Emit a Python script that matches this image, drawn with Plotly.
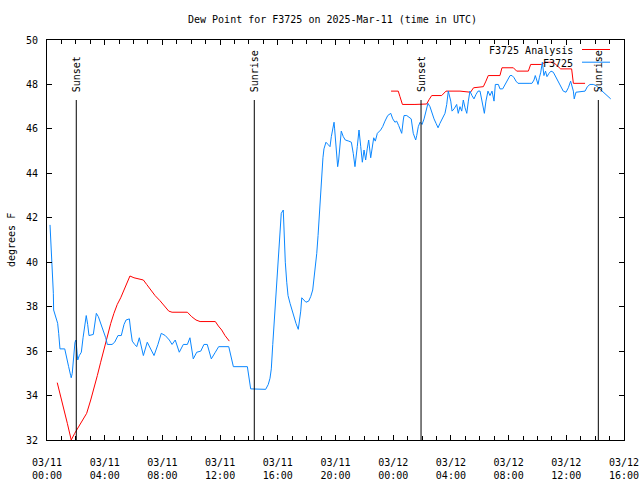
import pandas as pd
import plotly.graph_objects as go

# ---- data (hours after 2025-03-11 00:00 UTC) ----
obs_hours = [0.21, 0.26, 0.35, 0.44, 0.46, 0.62, 0.74, 0.81, 0.90, 1.23, 1.37, 1.50, 1.64, 1.68, 1.75,
             1.85, 1.94, 2.01, 2.06, 2.13, 2.24, 2.38, 2.50, 2.59, 2.72, 2.82, 2.91, 3.21, 3.31, 3.42,
             3.56, 3.72, 3.90, 4.07, 4.18, 4.51, 4.69, 4.92, 5.15, 5.34, 5.48, 5.71, 5.80, 5.91, 6.08,
             6.22, 6.40, 6.52, 6.68, 6.95, 7.19, 7.42, 7.69, 7.92, 8.20, 8.48, 8.67, 8.89, 9.17, 9.45,
             9.73, 9.91, 10.14, 10.38, 10.66, 10.88, 11.11, 11.39, 11.67, 11.90, 12.60, 12.78, 12.92,
             13.89, 14.00, 14.12, 15.16, 15.34, 15.46, 15.55, 15.65, 15.74, 15.81, 15.88, 15.97, 16.03,
             16.10, 16.17, 16.24, 16.38, 16.45, 16.52, 16.62, 16.71, 16.85, 16.98, 17.12, 17.26, 17.42,
             17.49, 17.59, 17.66, 17.95, 18.14, 18.28, 18.42, 18.51, 18.60, 18.70, 18.79, 18.86, 18.93,
             18.99, 19.06, 19.13, 19.20, 19.34, 19.48, 19.62, 19.71, 19.81, 19.90, 19.94, 20.01, 20.08,
             20.15, 20.22, 20.31, 20.40, 20.54, 20.68, 20.92, 21.10, 21.23, 21.35, 21.51, 21.63, 21.75,
             21.86, 21.98, 22.09, 22.20, 22.30, 22.44, 22.53, 22.65, 22.76, 22.90, 23.13, 23.27, 23.43,
             23.62, 23.83, 23.97, 24.12, 24.24, 24.38, 24.52, 24.59, 24.70, 24.75, 24.94, 25.12, 25.25,
             25.39, 25.56, 25.63, 25.74, 25.86, 26.00, 26.14, 26.27, 26.41, 26.55, 26.69, 26.83, 26.97,
             27.11, 27.24, 27.43, 27.59, 27.71, 27.82, 27.99, 28.08, 28.22, 28.40, 28.51, 28.63, 28.75,
             28.86, 28.98, 29.10, 29.21, 29.32, 29.46, 29.60, 29.74, 29.88, 30.02, 30.14, 30.25, 30.32,
             30.43, 30.57, 30.71, 30.85, 30.99, 31.08, 31.29, 31.40, 31.59, 31.75, 31.91, 32.10, 32.24,
             32.38, 32.51, 32.65, 33.48, 33.62, 33.76, 33.85, 33.95, 34.04, 34.13, 34.23, 34.34, 34.45,
             34.56, 34.66, 34.80, 34.94, 35.10, 35.29, 35.45, 35.61, 35.79, 35.98, 36.14, 36.30, 36.40,
             36.49, 36.55, 36.67, 37.30, 37.46, 37.64, 37.87, 38.06, 38.22, 38.45, 38.68, 38.91, 39.08]
obs_values = [41.68, 41.1, 39.8, 38.6, 37.85, 37.55, 37.25, 36.8, 36.1, 36.1, 35.75, 35.3, 34.9, 34.8, 35.0,
              35.9, 36.4, 36.5, 36.05, 35.6, 35.8, 35.95, 36.6, 37.0, 37.6, 37.2, 36.7, 36.75, 37.25, 37.7,
              37.55, 37.25, 36.95, 36.6, 36.3, 36.3, 36.4, 36.7, 36.7, 37.2, 37.4, 37.45, 36.95, 36.45, 36.3,
              36.2, 36.6, 36.2, 35.8, 36.4, 36.1, 35.8, 36.3, 36.8, 36.7, 36.5, 36.3, 36.5, 35.95, 36.3,
              36.3, 36.6, 35.65, 35.95, 36.0, 36.3, 36.3, 35.65, 35.95, 36.2, 36.2, 35.6, 35.3,
              35.3, 34.85, 34.3, 34.28, 34.5, 34.78, 35.2, 36.3, 37.2, 38.1, 39.0, 39.8, 40.4,
              41.15, 41.8, 42.2, 42.35, 41.0, 40.0, 39.1, 38.5, 38.15, 37.85, 37.55, 37.25, 36.98,
              37.25, 37.8, 38.4, 38.2, 38.25, 38.45, 38.75, 39.2, 39.8, 40.4, 41.2, 42.05, 42.9,
              43.4, 44.1, 44.7, 45.1, 45.4, 45.3, 45.2, 45.65, 46.0, 46.3, 46.0, 45.35, 44.7,
              44.3, 44.6, 45.35, 45.9, 45.65, 45.5, 45.45, 45.4, 44.9, 44.3, 45.2, 45.95, 45.2,
              44.5, 45.05, 44.6, 45.1, 45.5, 44.7, 45.05, 45.6, 45.45, 45.8, 45.95, 46.1, 46.35,
              46.6, 46.7, 46.45, 46.3, 46.35, 46.15, 45.9, 45.8, 46.4, 46.6, 46.6, 46.5, 46.45,
              45.8, 45.5, 45.7, 46.1, 46.3, 46.2, 46.45, 46.8, 47.15, 47.0, 46.7, 46.45, 46.25,
              46.05, 46.25, 46.5, 46.7, 47.1, 47.7, 47.25, 46.8, 46.9, 47.1, 46.7, 47.0, 46.8,
              47.3, 46.95, 46.7, 47.25, 47.7, 47.5, 47.35, 47.55, 47.7, 47.7, 47.25, 47.0, 46.7,
              47.25, 47.7, 47.5, 47.7, 47.25, 48.0, 48.0, 47.8, 47.8, 48.0, 48.15, 48.4, 48.4,
              48.3, 48.15, 48.05, 48.05, 48.05, 48.2, 48.4, 48.2, 48.0, 48.3, 48.55, 49.0, 48.4,
              48.6, 48.35, 48.5, 48.6, 48.55, 48.3, 48.15, 47.9, 47.7, 47.65, 47.85, 48.15, 47.9,
              47.7, 47.35, 47.65, 47.7, 47.9, 48.0, 48.0, 47.95, 47.85, 47.75, 47.6, 47.45, 47.35]

ana1_hours = [0.71, 0.95, 1.18, 1.41, 1.68, 1.92, 2.10, 2.34, 2.57, 2.75, 3.03, 3.26, 3.49, 3.72, 3.95,
              4.18, 4.42, 4.64, 4.87, 5.11, 5.34, 5.57, 5.75, 6.03, 6.33, 6.68, 6.91, 7.19, 7.49, 7.83,
              8.16, 8.44, 8.67, 9.10, 9.45, 9.73, 10.03, 10.33, 10.61, 11.67, 11.88, 12.11, 12.34, 12.64]
ana1_values = [34.58, 34.0, 33.35, 32.75, 32.0, 32.3, 32.5, 32.75, 33.0, 33.2, 33.8, 34.3, 34.9, 35.5, 36.1,
               36.7, 37.25, 37.7, 38.1, 38.4, 38.75, 39.1, 39.38, 39.3, 39.25, 39.2, 39.0, 38.75, 38.5, 38.27,
               38.0, 37.8, 37.75, 37.75, 37.78, 37.75, 37.55, 37.4, 37.33, 37.33, 37.13, 36.95, 36.7, 36.45]

ana2_hours = [23.85, 24.35, 24.47, 24.64, 25.51, 26.32, 26.50, 26.67, 27.36, 27.66, 28.63, 29.36, 29.57,
              30.25, 30.43, 30.59, 31.40, 31.54, 32.33, 32.56, 33.37, 33.53, 34.29, 34.52, 35.10, 35.29,
              35.61, 36.37, 36.49, 37.30]
ana2_values = [47.7, 47.7, 47.45, 47.1, 47.1, 47.12, 47.33, 47.5, 47.5, 47.7, 47.7, 47.65, 47.85,
               47.9, 48.15, 48.4, 48.4, 48.75, 48.75, 48.6, 48.6, 48.9, 48.9, 49.0, 49.0, 48.9,
               48.7, 48.7, 48.05, 48.05]

sun_labels = ["Sunset", "Sunrise", "Sunset", "Sunrise"]
sun_hours = [2.03, 14.37, 25.93, 38.22]

series_names = ["F3725 Analysis", "F3725"]
series_colors = ["#ff0000", "#0a87ff"]

base = pd.Timestamp("2025-03-11 00:00")


def to_time(hours):
    return base + pd.to_timedelta(hours, unit="h")


FONT = "DejaVu Sans Mono"

fig = go.Figure()
fig.add_trace(go.Scatter(x=to_time(ana1_hours), y=ana1_values, mode="lines",
                         line=dict(color=series_colors[0], width=1), name=series_names[0],
                         showlegend=False))
fig.add_trace(go.Scatter(x=to_time(ana2_hours), y=ana2_values, mode="lines",
                         line=dict(color=series_colors[0], width=1), name=series_names[0],
                         showlegend=False))
fig.add_trace(go.Scatter(x=to_time(obs_hours), y=obs_values, mode="lines",
                         line=dict(color=series_colors[1], width=1), name=series_names[1],
                         showlegend=False))

shapes = []
annotations = []
for lab, h in zip(sun_labels, sun_hours):
    t = to_time(h)
    shapes.append(dict(type="line", xref="x", yref="paper", x0=t, x1=t, y0=0, y1=0.85,
                       line=dict(color="black", width=1)))
    annotations.append(dict(x=t, y=0.865, xref="x", yref="paper", text=lab, showarrow=False,
                            textangle=-90, xanchor="center", yanchor="bottom",
                            font=dict(family=FONT, size=10, color="black")))

# manual gnuplot-style legend (text right, sample line on right)
for i, (nm, col) in enumerate(zip(series_names, series_colors)):
    ypx = 50.5 + i * 12.7
    yp = (440 - ypx) / 400
    annotations.append(dict(x=(575 - 47) / 577, y=yp, xref="paper", yref="paper", text=nm,
                            showarrow=False, xanchor="right", yanchor="middle",
                            font=dict(family=FONT, size=10, color="black")))
    yl = (440 - (ypx - 1)) / 400
    shapes.append(dict(type="line", xref="paper", yref="paper", x0=(582 - 47) / 577,
                       x1=(610 - 47) / 577, y0=yl, y1=yl, line=dict(color=col, width=1)))

annotations.append(dict(x=(11 - 47) / 577, y=0.5, xref="paper", yref="paper", text="degrees F",
                        showarrow=False, textangle=-90, xanchor="center", yanchor="middle",
                        font=dict(family=FONT, size=10, color="black")))

fig.update_layout(
    width=640, height=480,
    margin=dict(l=47, r=16, t=40, b=40, autoexpand=False),
    paper_bgcolor="white", plot_bgcolor="white",
    font=dict(family=FONT, size=10, color="black"),
    title=dict(text="Dew Point for F3725 on 2025-Mar-11 (time in UTC)", x=332.5 / 640,
               xref="container", y=1 - 19 / 480, yref="container", xanchor="center",
               yanchor="middle", font=dict(family=FONT, size=10, color="black")),
    shapes=shapes, annotations=annotations,
)
fig.update_xaxes(
    range=[base, to_time(40)], type="date", automargin=False,
    tick0=base, dtick=4 * 3600 * 1000, tickformat="%m/%d<br>%H:%M",
    ticks="inside", ticklen=5, tickcolor="black", tickwidth=1,
    minor=dict(dtick=3600 * 1000, ticks="inside", ticklen=4, tickcolor="black", showgrid=False),
    showline=True, linecolor="black", linewidth=1, mirror="ticks",
    showgrid=False, zeroline=False, ticklabelstandoff=13,
)
fig.update_yaxes(
    range=[32, 50], dtick=2, tick0=32, automargin=False,
    ticks="inside", ticklen=5, tickcolor="black", tickwidth=1,
    showline=True, linecolor="black", linewidth=1, mirror="ticks",
    showgrid=False, zeroline=False, ticklabelstandoff=6,
)

fig.write_html("out.html", config={"displayModeBar": False},
               post_script="document.body.style.margin='0';document.body.style.padding='0';")
